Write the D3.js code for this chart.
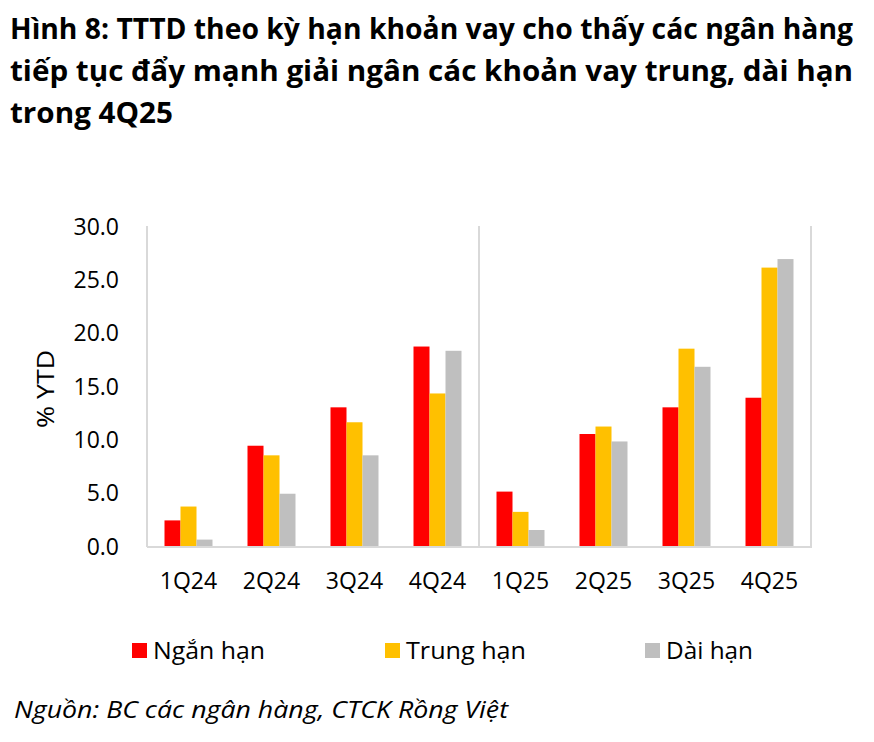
<!DOCTYPE html>
<html>
<head>
<meta charset="utf-8">
<script src="https://cdn.jsdelivr.net/npm/d3@7"></script>
<style>
  html, body { margin: 0; padding: 0; background: #fff; }
  svg { display: block; }
  text { font-family: "Open Sans", "Noto Sans", sans-serif; fill: #000; }
</style>
</head>
<body>
<script>
// ---- data ----
const categories = ["1Q24", "2Q24", "3Q24", "4Q24", "1Q25", "2Q25", "3Q25", "4Q25"];
const seriesNames = ["Ngắn hạn", "Trung hạn", "Dài hạn"];
const nganHan   = [2.4, 9.4, 13.0, 18.7, 5.1, 10.5, 13.0, 13.9];
const trungHan  = [3.7, 8.5, 11.6, 14.3, 3.2, 11.2, 18.5, 26.1];
const daiHan    = [0.6, 4.9, 8.5, 18.3, 1.5, 9.8, 16.8, 26.9];
const yTicks    = [0, 5, 10, 15, 20, 25, 30];
const titleLines = [
  "Hình 8: TTTD theo kỳ hạn khoản vay cho thấy các ngân hàng",
  "tiếp tục đẩy mạnh giải ngân các khoản vay trung, dài hạn",
  "trong 4Q25"
];
const yLabel = "% YTD";
const sourceText = "Nguồn: BC các ngân hàng, CTCK Rồng Việt";

const seriesValues = [nganHan, trungHan, daiHan];
const colors = ["#FF0000", "#FFC000", "#BFBFBF"];

const W = 874, H = 742;
const svg = d3.select("body").append("svg").attr("width", W).attr("height", H);

// ---- title ----
const titleBase = [39, 81, 123];
const titleLen = [843, 843, 163];
titleLines.forEach((t, i) => {
  svg.append("text")
    .attr("x", 10).attr("y", titleBase[i])
    .attr("font-size", 29).attr("font-weight", 700)
    .attr("textLength", titleLen[i])
    .attr("lengthAdjust", "spacingAndGlyphs")
    .text(t);
});

// ---- scales ----
const pLeft = 147, pRight = 811, pTop = 226, pBottom = 546;
const x = d3.scaleBand().domain(categories).range([pLeft, pRight]).paddingInner(0).paddingOuter(0);
const inner = d3.scaleBand().domain(d3.range(3)).range([0, 48]);
const y = d3.scaleLinear().domain([0, 30]).range([pBottom, pTop]);

// ---- bars ----
const g = svg.append("g");
seriesValues.forEach((vals, si) => {
  g.selectAll(null).data(vals).enter().append("rect")
    .attr("x", (d, i) => x(categories[i]) + (x.bandwidth() - 48) / 2 + inner(si))
    .attr("y", d => y(d))
    .attr("width", inner.bandwidth())
    .attr("height", d => y(0) - y(d))
    .attr("fill", colors[si]);
});

// ---- axes / frame lines ----
const lineColor = "#D9D9D9";
const frame = svg.append("g").attr("stroke", lineColor).attr("stroke-width", 2);
frame.append("line").attr("x1", pLeft).attr("x2", pLeft).attr("y1", pTop).attr("y2", pBottom + 1);
frame.append("line").attr("x1", pRight).attr("x2", pRight).attr("y1", pTop).attr("y2", pBottom + 1);
const divX = x(categories[4]);
frame.append("line").attr("x1", divX).attr("x2", divX).attr("y1", pTop).attr("y2", pBottom + 1);
frame.append("line").attr("x1", pLeft).attr("x2", pRight + 1).attr("y1", pBottom + 1).attr("y2", pBottom + 1);

// y axis labels
const yAxis = d3.axisLeft(y).tickValues(yTicks).tickFormat(d3.format(".1f")).tickSize(0).tickPadding(0);
const yg = svg.append("g").attr("transform", `translate(${119},0)`).call(yAxis);
yg.select(".domain").remove();
yg.selectAll("text").attr("font-size", 23).attr("font-family", "Open Sans, sans-serif").attr("fill", "#000").attr("dy", "0.36em");

// x axis labels
const xAxis = d3.axisBottom(x).tickSize(0).tickPadding(0);
const xg = svg.append("g").attr("transform", `translate(0,${589})`).call(xAxis);
xg.select(".domain").remove();
xg.selectAll("text").attr("font-size", 23).attr("font-family", "Open Sans, sans-serif").attr("fill", "#000").attr("dy", 0).attr("y", 0);

// y label
svg.append("text")
  .attr("transform", `translate(${54},${389}) rotate(-90)`)
  .attr("text-anchor", "middle")
  .attr("font-size", 24)
  .attr("textLength", 78).attr("lengthAdjust", "spacingAndGlyphs")
  .text(yLabel);

// ---- legend ----
const legX = [132, 385, 645];
const legLen = [112, 120, 87];
seriesNames.forEach((n, i) => {
  svg.append("rect").attr("x", legX[i]).attr("y", 643).attr("width", 15).attr("height", 15).attr("fill", colors[i]);
  svg.append("text").attr("x", legX[i] + 21).attr("y", 659)
    .attr("font-size", 23)
    .attr("textLength", legLen[i]).attr("lengthAdjust", "spacingAndGlyphs")
    .text(n);
});

// ---- source ----
svg.append("text")
  .attr("x", 14).attr("y", 718)
  .attr("font-size", 24).attr("font-style", "italic")
  .attr("textLength", 494).attr("lengthAdjust", "spacingAndGlyphs")
  .text(sourceText);
</script>
</body>
</html>
